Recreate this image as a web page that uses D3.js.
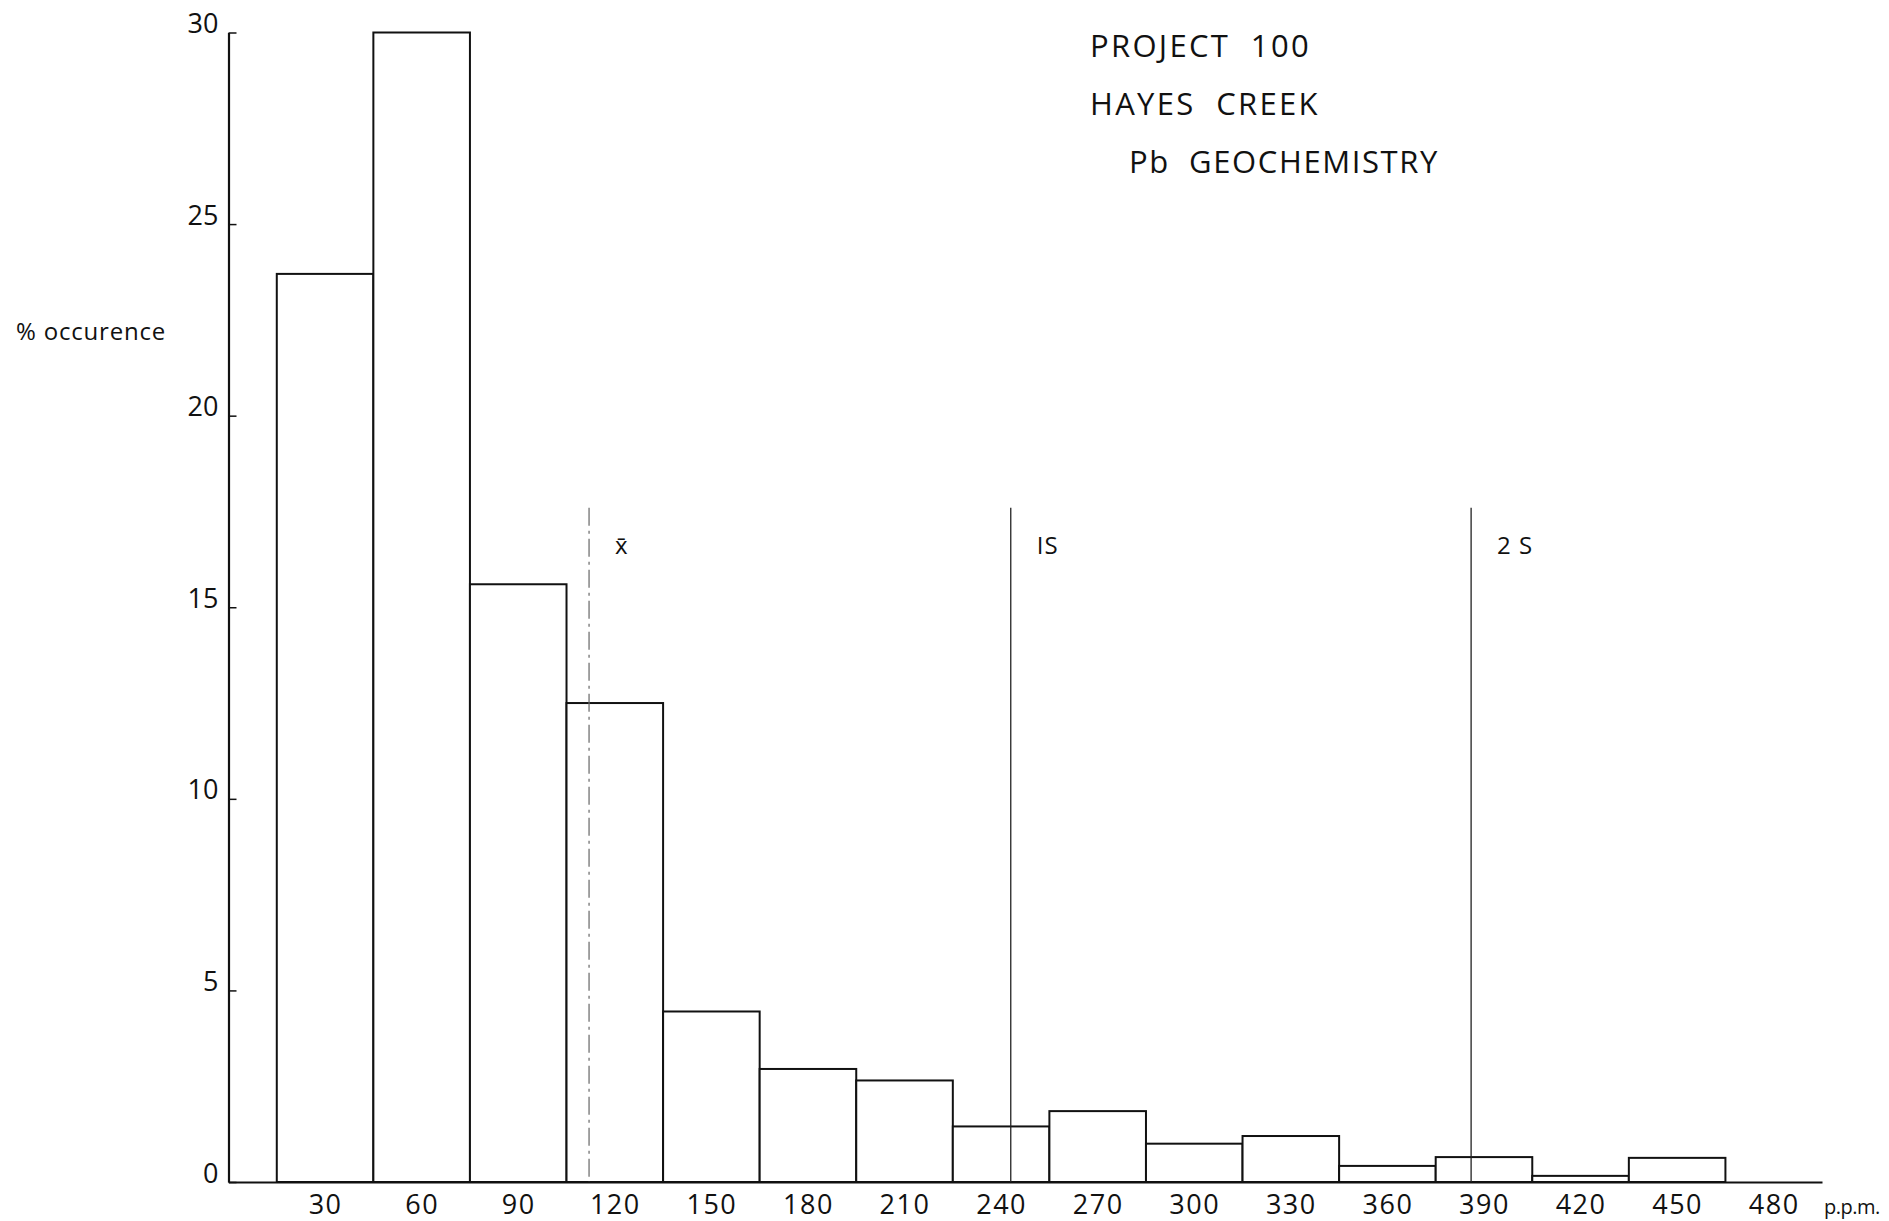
<!DOCTYPE html>
<html lang="en">
<head>
    <meta charset="UTF-8">
    <title>Project 100 - Hayes Creek - Pb geochemistry</title>
    <script src="https://d3js.org/d3.v7.min.js"></script>
    <style>
        body { margin: 0; background: #fff; }
        text { font-family: "Open Sans", "DejaVu Sans", sans-serif; fill: #111; }
    </style>
</head>
<body>
<div id="chart"></div>
<script>
    // bin centres (ppm) and % occurence
    const bins = [30, 60, 90, 120, 150, 180, 210, 240, 270, 300, 330, 360, 390, 420, 450, 480];
    const percents = [23.7, 30.0, 15.6, 12.5, 4.45, 2.95, 2.65, 1.45, 1.85, 1.0, 1.2, 0.42, 0.65, 0.16, 0.63, 0];
    const binWidth = 30;
    const yTicks = [0, 5, 10, 15, 20, 25, 30];

    // mean and standard deviation markers
    const markerLabels = ["x\u0304", "IS", "2 S"];
    const markerValues = [112, 243, 386];
    const markerTop = 17.6;

    const titleLines = ["PROJECT  100", "HAYES  CREEK", "Pb  GEOCHEMISTRY"];

    const width = 1889, height = 1221;

    const svg = d3.select("#chart")
        .append("svg")
        .attr("width", width)
        .attr("height", height);

    const x = d3.scaleLinear().domain([0, 495]).range([228.5, 1822]);
    const y = d3.scaleLinear().domain([0, 30]).range([1182, 32.5]);

    // bars
    svg.selectAll(".bar")
        .data(bins)
        .enter()
        .append("rect")
        .attr("class", "bar")
        .attr("x", (d) => x(d - binWidth / 2))
        .attr("width", x(binWidth) - x(0))
        .attr("y", (d, i) => y(percents[i]))
        .attr("height", (d, i) => y(0) - y(percents[i]))
        .attr("fill", "#fff")
        .attr("stroke", "#111")
        .attr("stroke-width", 2);

    // x axis
    const xAxis = svg.append("g")
        .attr("transform", `translate(0,${y(0)})`)
        .call(d3.axisBottom(x).tickValues(bins).tickSize(0).tickSizeOuter(0));
    xAxis.select(".domain").attr("stroke", "#111").attr("stroke-width", 2.2);
    xAxis.selectAll("text")
        .attr("y", 32)
        .attr("dy", 0)
        .attr("font-size", 27)
        .attr("letter-spacing", 1.5)
        .style("font-family", "'Open Sans', sans-serif")
        .attr("fill", "#111");

    svg.append("text")
        .attr("x", 1824)
        .attr("y", 1214)
        .attr("font-size", 20)
        .attr("letter-spacing", -0.5)
        .text("p.p.m.");

    // y axis, ticks pointing inwards
    const yAxis = svg.append("g")
        .attr("transform", `translate(${x(0)},0)`)
        .call(d3.axisLeft(y).tickValues(yTicks).tickSize(-8).tickSizeOuter(0).tickPadding(10));
    yAxis.select(".domain").attr("stroke", "#111").attr("stroke-width", 2.2);
    yAxis.selectAll(".tick line").attr("stroke", "#111").attr("stroke-width", 1.5);
    yAxis.selectAll("text")
        .attr("dy", 0)
        .attr("font-size", 27)
        .style("font-family", "'Open Sans', sans-serif")
        .attr("fill", "#111");

    svg.append("text")
        .attr("x", 16)
        .attr("y", 340)
        .attr("font-size", 24)
        .attr("letter-spacing", 0.8)
        .text("% occurence");

    // mean / 1S / 2S lines
    svg.selectAll(".marker")
        .data(markerValues)
        .enter()
        .append("line")
        .attr("class", "marker")
        .attr("x1", (d) => x(d))
        .attr("x2", (d) => x(d))
        .attr("y1", y(markerTop))
        .attr("y2", y(0))
        .attr("stroke", (d, i) => i === 0 ? "#666" : "#222")
        .attr("stroke-width", (d, i) => i === 0 ? 1.2 : 1.3)
        .attr("stroke-dasharray", (d, i) => i === 0 ? "18,5,3,5" : null);

    svg.selectAll(".marker-label")
        .data(markerValues)
        .enter()
        .append("text")
        .attr("class", "marker-label")
        .attr("x", (d) => x(d) + 26)
        .attr("y", y(16.4))
        .attr("font-size", 24)
        .attr("letter-spacing", 1)
        .attr("xml:space", "preserve")
        .style("white-space", "pre")
        .text((d, i) => markerLabels[i]);

    // title block
    svg.selectAll(".title")
        .data(titleLines)
        .enter()
        .append("text")
        .attr("class", "title")
        .attr("x", (d, i) => i === 2 ? 1129 : 1090)
        .attr("y", (d, i) => 57 + i * 58)
        .attr("font-size", 31)
        .attr("letter-spacing", (d, i) => i === 2 ? 1.6 : 2.3)
        .attr("xml:space", "preserve")
        .style("white-space", "pre")
        .text((d) => d);
</script>
</body>
</html>
